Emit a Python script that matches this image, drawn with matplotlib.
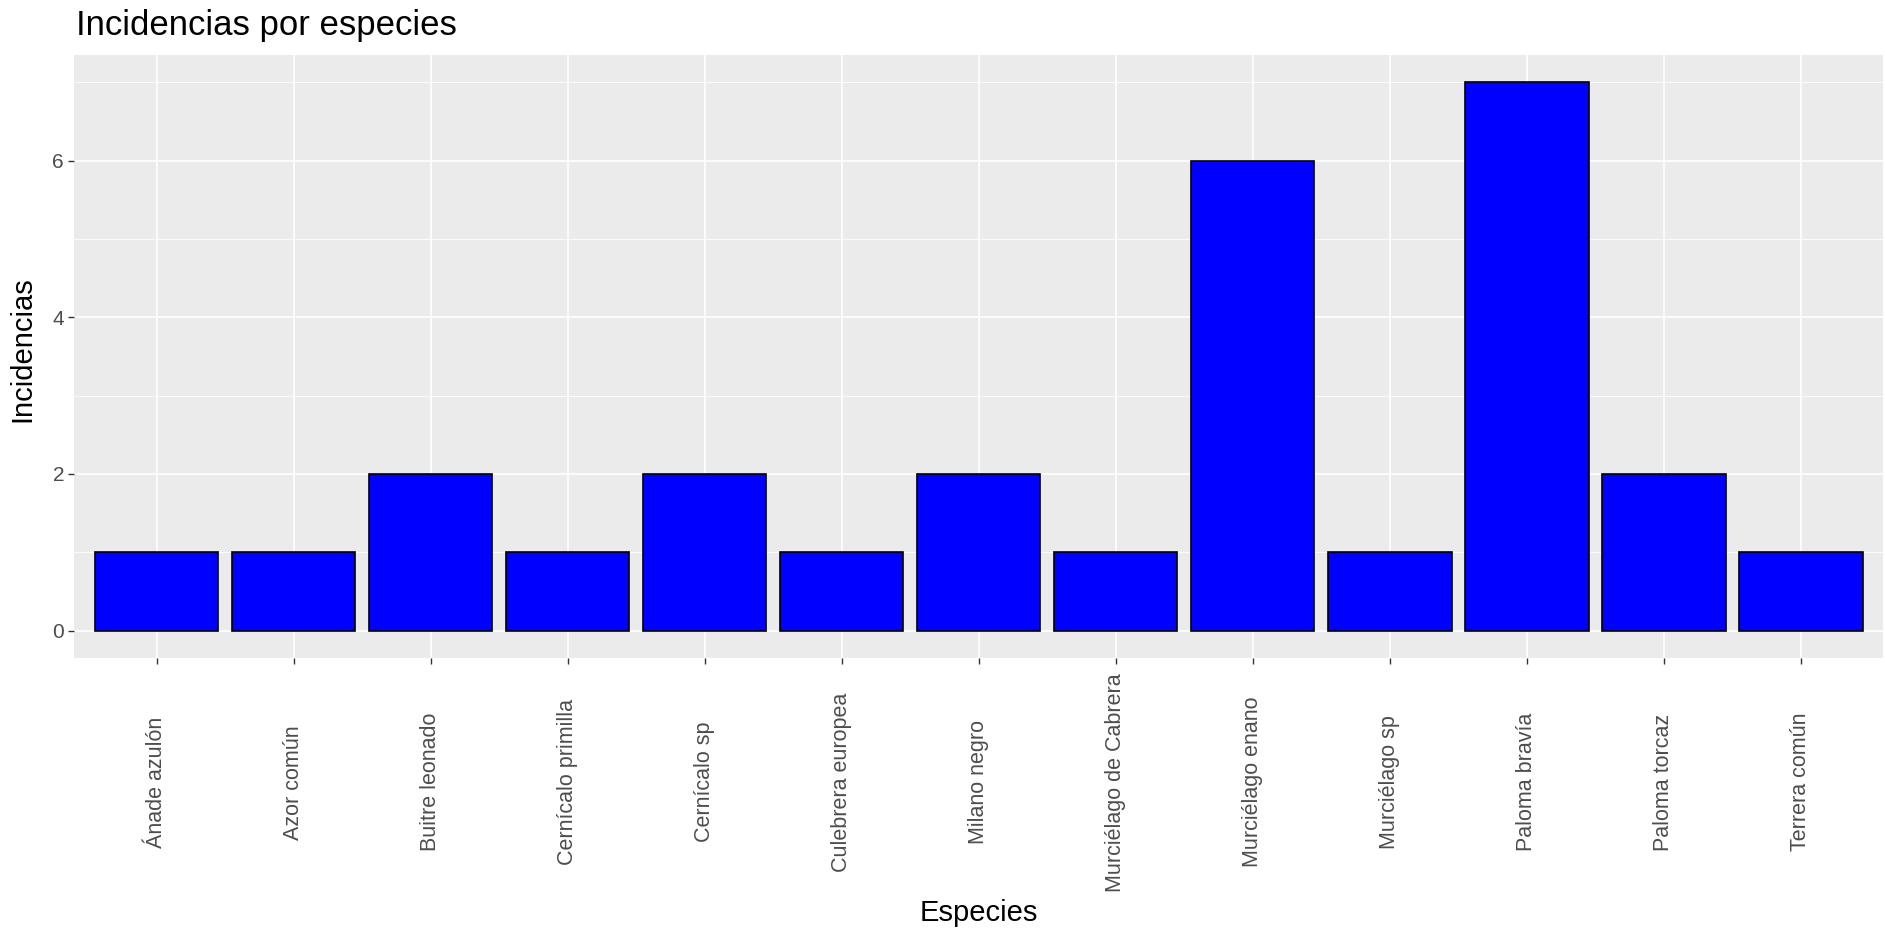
import matplotlib
matplotlib.use("Agg")
import matplotlib.pyplot as plt
import matplotlib.transforms as mtransforms
import numpy as np

especies = ["Ánade azulón", "Azor común", "Buitre leonado", "Cernícalo primilla",
            "Cernícalo sp", "Culebrera europea", "Milano negro", "Murciélago de Cabrera",
            "Murciélago enano", "Murciélago sp", "Paloma bravía", "Paloma torcaz",
            "Terrera común"]
incidencias = [1, 1, 2, 1, 2, 1, 2, 1, 6, 1, 7, 2, 1]
yticks = [0, 2, 4, 6]

plt.rcParams['font.family'] = ['Liberation Sans', 'DejaVu Sans']

fig = plt.figure(figsize=(18.85, 9.35), dpi=100)
ax = fig.add_axes([0.0395, 0.2963, 0.9595, 0.645])
ax.set_facecolor("#EBEBEB")

x = np.arange(1, len(especies) + 1)
ax.bar(x, incidencias, width=0.9, color="#0000FF", edgecolor="black", linewidth=1.2, zorder=3)

ax.set_xlim(0.4, len(especies) + 0.6)
ax.set_ylim(-0.35, 7.35)
ax.set_yticks(yticks)
ax.set_yticks([1, 3, 5, 7], minor=True)
ax.set_xticks(x)
ax.set_xticklabels([])

ax.grid(which="major", color="white", linewidth=1.2, zorder=0)
ax.grid(which="minor", axis="y", color="white", linewidth=0.6, zorder=0)
for s in ax.spines.values():
    s.set_visible(False)
ax.tick_params(which="major", length=4, color="#333333", width=1, labelsize=15, labelcolor="#4D4D4D")
ax.tick_params(which="minor", length=0)

# rotated species names, centred under each tick like the ggplot original
trans = mtransforms.blended_transform_factory(ax.transData, ax.transAxes)
for xi, lab in zip(x, especies):
    ax.text(xi, -0.206, lab, rotation=90, ha="center", va="center",
            fontsize=15.5, color="#4D4D4D", transform=trans)

fig.text(0.0405, 0.973, "Incidencias por especies", fontsize=25, ha="left", va="center", color="black")
fig.text(0.519, 0.0235, "Especies", fontsize=21, ha="center", va="center")
fig.text(0.0117, 0.627, "Incidencias", fontsize=21, ha="center", va="center", rotation=90)

fig.savefig("out.png", dpi=100)
